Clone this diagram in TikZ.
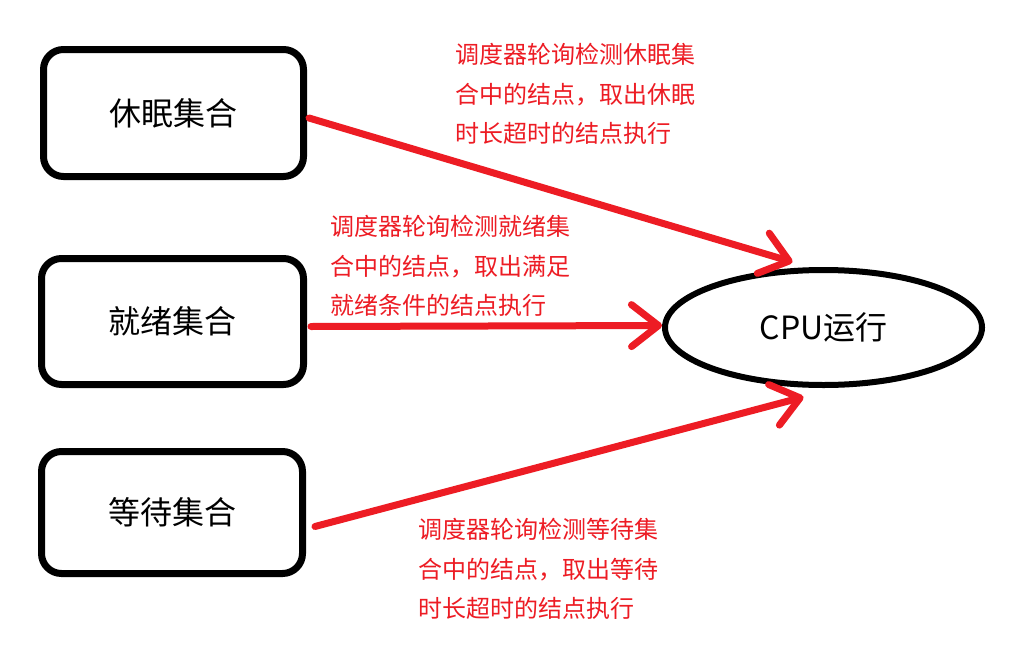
\documentclass[tikz,border=0pt]{standalone}
\usepackage{fontspec}
\setmainfont{Noto Sans CJK SC}
\usetikzlibrary{shapes.geometric,arrows.meta,calc}
\definecolor{paintred}{RGB}{237,28,36}
\tikzset{
  setbox/.style={draw=black,line width=7pt,rounded corners=20pt,inner sep=0pt,
    font=\fontsize{32}{38}\selectfont},
  cpubox/.style={ellipse,draw=black,line width=6pt,inner sep=0pt,
    minimum width=317pt,minimum height=115pt,font=\fontsize{32}{38}\selectfont},
  flow/.style={draw=paintred,line width=7pt,line cap=round,
    -{Straight Barb[length=27pt,width=42pt,round]}},
  note/.style={text=paintred,anchor=north west,inner sep=0pt,align=left,
    font=\fontsize{24}{39.5}\selectfont}
}
\begin{document}
\begin{tikzpicture}[x=1pt,y=-1pt]
\useasboundingbox[fill=white] (0,0) rectangle (1022,653);
\node[setbox,minimum width=260pt,minimum height=127pt] (b1) at (173.5,113) {休眠集合};
\node[setbox,minimum width=262pt,minimum height=126pt] (b2) at (172.5,321.5) {就绪集合};
\node[setbox,minimum width=261pt,minimum height=122pt] (b3) at (172,512.5) {等待集合};
\node[cpubox] (e) at (823.5,327.5) {CPU运行};
\draw[flow] ($(b1.east)+(2,5)$) -- ($(e.north)+(-31,-5)$);
\draw[flow] ($(b2.east)+(4,5)$) -- ($(e.west)+(0,-2)$);
\draw[flow] ($(b3.east)+(9,14)$) -- ($(e.south)+(-20,9)$);
\node[note] (n1) at (455,43) {调度器轮询检测休眠集\\合中的结点，取出休眠\\时长超时的结点执行};
\node[note] (n2) at (330,215) {调度器轮询检测就绪集\\合中的结点，取出满足\\就绪条件的结点执行};
\node[note] (n3) at (418,518) {调度器轮询检测等待集\\合中的结点，取出等待\\时长超时的结点执行};
\end{tikzpicture}
\end{document}
